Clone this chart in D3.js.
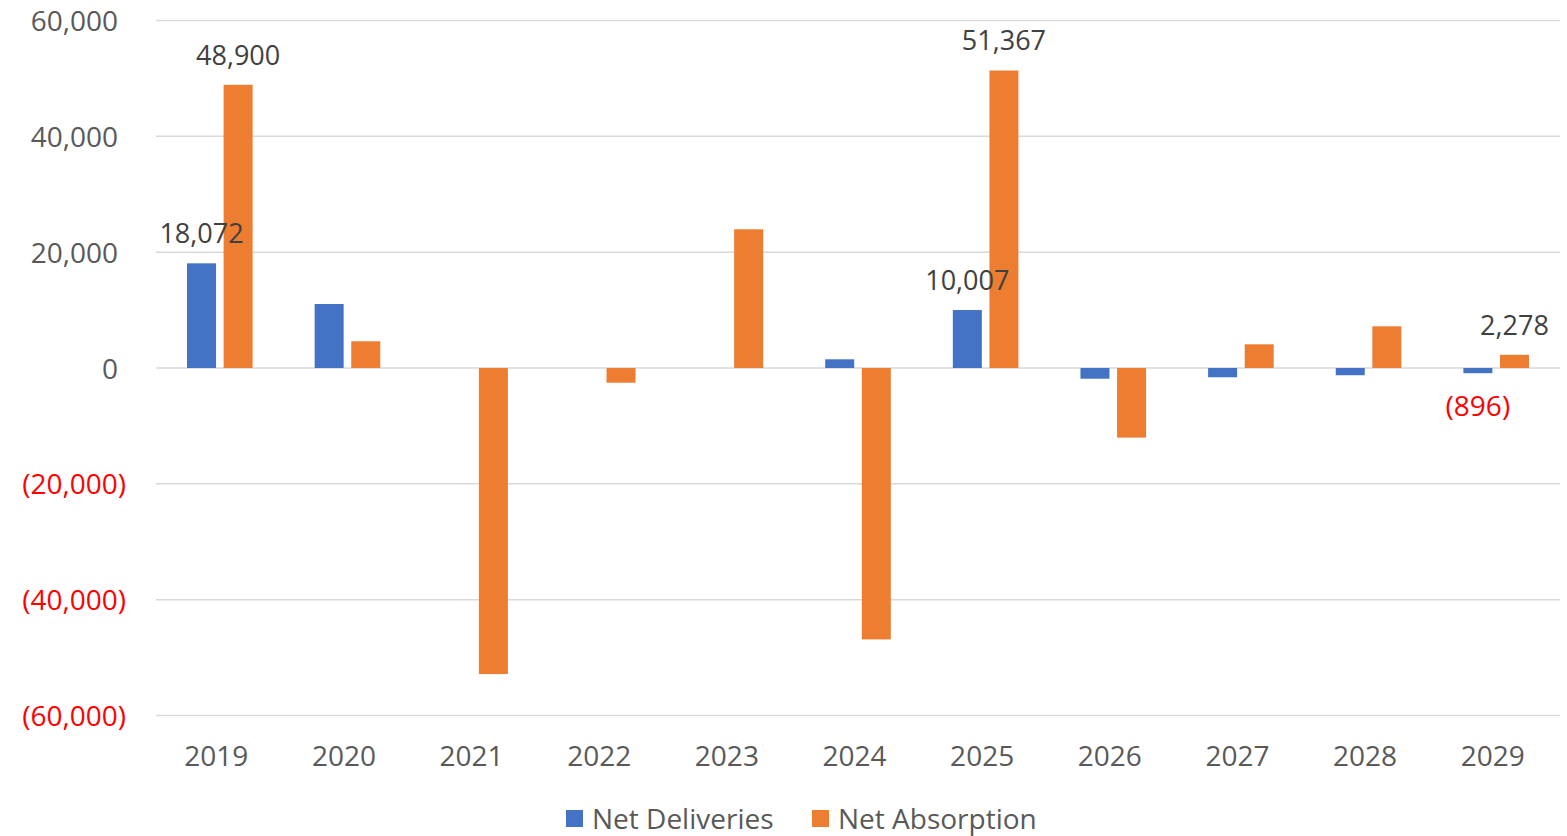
<!DOCTYPE html>
<html><head><meta charset="utf-8">
<script src="https://cdn.jsdelivr.net/npm/d3@7"></script>
<style>html,body{margin:0;padding:0;background:#fff;}svg{display:block;font-family:"Open Sans",sans-serif;}</style>
</head><body>
<script>
const years = ["2019","2020","2021","2022","2023","2024","2025","2026","2027","2028","2029"];
const netDeliveries = [18072, 11050, 0, 0, 0, 1500, 10007, -1850, -1600, -1250, -896];
const netAbsorption = [48900, 4610, -52850, -2540, 23950, -46860, 51367, -12020, 4090, 7200, 2278];
const seriesNames = ["Net Deliveries", "Net Absorption"];
const seriesColors = ["#4472c4", "#ed7d31"];
const yTicks = [60000, 40000, 20000, 0, -20000, -40000, -60000];
// labelled points: [seriesIndex, yearIndex, position]
const labelled = [[0,0,"above"],[1,0,"above"],[0,6,"above"],[1,6,"above"],[1,10,"above"],[0,10,"below"]];

const W = 1567, H = 836;
const svg = d3.select("body").append("svg").attr("width", W).attr("height", H);
const x = d3.scaleBand().domain(years).range([156, 1560]).paddingInner(0).paddingOuter(0);
const y = d3.scaleLinear().domain([-60000, 60000]).range([715.5, 20.5]);
const fmt = v => v < 0 ? "(" + d3.format(",")(-v) + ")" : d3.format(",")(v);

// gridlines
svg.append("g").selectAll("line").data(yTicks).join("line")
  .attr("x1", 156).attr("x2", 1560).attr("y1", d => y(d)).attr("y2", d => y(d))
  .attr("stroke", "#d9d9d9").attr("stroke-width", 1.5);

// y axis labels
const yAxis = d3.axisLeft(y).tickValues(yTicks).tickFormat(fmt).tickSize(0).tickPadding(0);
const ya = svg.append("g").attr("transform", "translate(126,0)").call(yAxis);
ya.select(".domain").remove();
ya.selectAll("text").attr("font-size", 28).attr("font-family", "Open Sans")
  .attr("fill", d => d < 0 ? "#ff0000" : "#595959").attr("dy", "0.36em")
  .attr("x", d => d < 0 ? 0 : -8);

// x axis labels
const xAxis = d3.axisBottom(x).tickSize(0).tickPadding(0);
const xa = svg.append("g").attr("transform", "translate(-3.5,756)").call(xAxis);
xa.select(".domain").remove();
xa.selectAll("text").attr("font-size", 28).attr("font-family", "Open Sans").attr("fill", "#595959").attr("dy", "0.36em");

const barW = 29, gap = 7.6;
const sub = d3.scaleOrdinal().domain([0,1]).range([-(gap/2 + barW), gap/2]);
const series = [netDeliveries, netAbsorption];
series.forEach((vals, si) => {
  svg.append("g").selectAll("rect").data(vals.map((v,i)=>({v, yr: years[i]})).filter(d => d.v !== 0)).join("rect")
    .attr("x", d => x(d.yr) + x.bandwidth()/2 + sub(si))
    .attr("width", barW)
    .attr("y", d => Math.min(y(d.v), y(0)))
    .attr("height", d => Math.abs(y(d.v) - y(0)))
    .attr("fill", seriesColors[si]);
});

// data labels
svg.append("g").selectAll("text").data(labelled).join("text")
  .attr("x", d => x(years[d[1]]) + x.bandwidth()/2 + sub(d[0]) + barW/2)
  .attr("y", d => {
    const v = series[d[0]][d[1]];
    return d[2] === "above" ? Math.min(y(v), y(0)) - 20 : Math.max(y(v), y(0)) + 43;
  })
  .attr("text-anchor", "middle").attr("font-size", d => series[d[0]][d[1]] < 0 ? 28 : 27).attr("font-family", "Open Sans")
  .attr("fill", d => series[d[0]][d[1]] < 0 ? "#ff0000" : "#404040")
  .text(d => fmt(series[d[0]][d[1]]));

// legend
const legX = [566, 812];
const lg = svg.append("g").selectAll("g").data(seriesNames).join("g")
  .attr("transform", (d,i) => `translate(${legX[i]},810)`);
lg.append("rect").attr("width", 17).attr("height", 17).attr("fill", (d,i) => seriesColors[i]);
lg.append("text").attr("x", 26).attr("y", 9).attr("dy", "0.36em").attr("font-size", 28)
  .attr("font-family", "Open Sans").attr("fill", "#595959").text(d => d);
</script>
</body></html>
